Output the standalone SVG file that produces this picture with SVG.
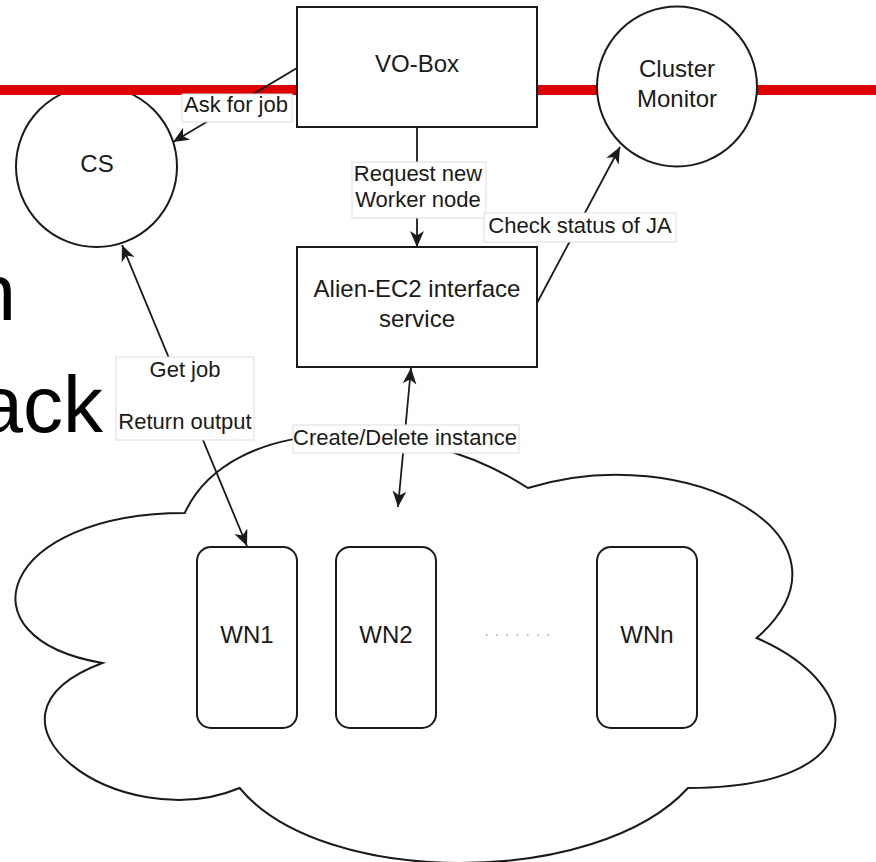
<svg xmlns="http://www.w3.org/2000/svg" width="876" height="862" viewBox="0 0 876 862">
  <style>
    .node { fill: #ffffff; stroke: #1a1a1a; stroke-width: 2; }
    .ntext { font-family: "Liberation Sans", Arial, sans-serif; font-size: 24px; fill: #1a1a1a; text-anchor: middle; }
    .etext { font-family: "Liberation Sans", Arial, sans-serif; font-size: 22px; fill: #1a1a1a; text-anchor: middle; }
    .lbl { fill: #ffffff; stroke: #dcdcdc; stroke-width: 1; }
    .edge { fill: none; stroke: #1a1a1a; stroke-width: 1.8; }
    .slide { font-family: "Liberation Sans", Arial, sans-serif; font-size: 80px; fill: #000000; text-anchor: end; }
  </style>
  <defs>
    <marker id="arrow" markerUnits="userSpaceOnUse" markerWidth="18" markerHeight="16" refX="16" refY="7" orient="auto-start-reverse" viewBox="0 0 18 16">
      <path d="M0,0 L16,7 L0,14 L4.5,7 Z" fill="#1a1a1a"/>
    </marker>
  </defs>
  <rect x="0" y="0" width="876" height="862" fill="#ffffff"/>

  <!-- background slide text -->
  <text class="slide" x="16" y="320">n</text>
  <text class="slide" x="103" y="432">ack</text>

  <g id="cs">
    <circle class="node" cx="96.5" cy="166.5" r="80.5"/>
    <text class="ntext" x="97" y="172">CS</text>
  </g>

  <!-- red horizontal bar -->
  <rect x="0" y="85" width="876" height="10" fill="#dd0000"/>

  <g id="cloud">
    <path class="node" d="M184.75,513 C1.75,513 -44,638 102.4,663 C-44,718 120.7,838 239.65,788 C322,888 596.5,888 688,788 C871,788 871,688 756.6,638 C871,538 688,438 527.9,488 C413.5,413 230.5,413 184.75,513 Z" stroke-width="1.6"/>
  </g>

  <g id="vobox">
    <rect class="node" x="297" y="7" width="240" height="120"/>
    <text class="ntext" x="417" y="72">VO-Box</text>
  </g>

  <g id="clustermonitor">
    <circle class="node" cx="677" cy="86.5" r="80"/>
    <text class="ntext" x="677" y="77">Cluster</text>
    <text class="ntext" x="677" y="107">Monitor</text>
  </g>

  <g id="alien">
    <rect class="node" x="297" y="247" width="240" height="120"/>
    <text class="ntext" x="417" y="297">Alien-EC2 interface</text>
    <text class="ntext" x="417" y="327">service</text>
  </g>

  <g id="wn1">
    <rect class="node" x="197" y="547" width="100" height="181" rx="14" ry="14"/>
    <text class="ntext" x="247" y="643">WN1</text>
  </g>
  <g id="wn2">
    <rect class="node" x="336" y="547" width="100" height="181" rx="14" ry="14"/>
    <text class="ntext" x="386" y="643">WN2</text>
  </g>
  <g id="dots">
    <line x1="486" y1="635" x2="549" y2="635" stroke="#555555" stroke-width="1.2" stroke-dasharray="1.2 9.1"/>
  </g>
  <g id="wnn">
    <rect class="node" x="597" y="547" width="100" height="181" rx="14" ry="14"/>
    <text class="ntext" x="647" y="643">WNn</text>
  </g>

  <g id="connectors">
    <!-- Ask for job -->
    <line class="edge" x1="297" y1="68" x2="173" y2="142" marker-end="url(#arrow)"/>
    <rect class="lbl" x="182" y="94" width="110" height="28"/>
    <text class="etext" x="236" y="112">Ask for job</text>

    <!-- Request new Worker node -->
    <line class="edge" x1="417" y1="127" x2="417" y2="247" marker-end="url(#arrow)"/>
    <rect class="lbl" x="352" y="162" width="134" height="56"/>
    <text class="etext" x="418" y="181">Request new</text>
    <text class="etext" x="418" y="207">Worker node</text>

    <!-- Check status of JA -->
    <line class="edge" x1="537" y1="303" x2="620" y2="147" marker-end="url(#arrow)"/>
    <rect class="lbl" x="484" y="213" width="192" height="29"/>
    <text class="etext" x="580" y="233">Check status of JA</text>

    <!-- Create/Delete instance -->
    <line class="edge" x1="411" y1="368" x2="398" y2="507" marker-start="url(#arrow)" marker-end="url(#arrow)"/>
    <rect class="lbl" x="293" y="425" width="226" height="28"/>
    <text class="etext" x="405" y="445">Create/Delete instance</text>

    <!-- Get job / Return output -->
    <line class="edge" x1="122" y1="245" x2="247" y2="546" marker-start="url(#arrow)" marker-end="url(#arrow)"/>
    <rect class="lbl" x="116" y="357" width="138" height="83"/>
    <text class="etext" x="185" y="377">Get job</text>
    <text class="etext" x="185" y="429">Return output</text>
  </g>
</svg>
